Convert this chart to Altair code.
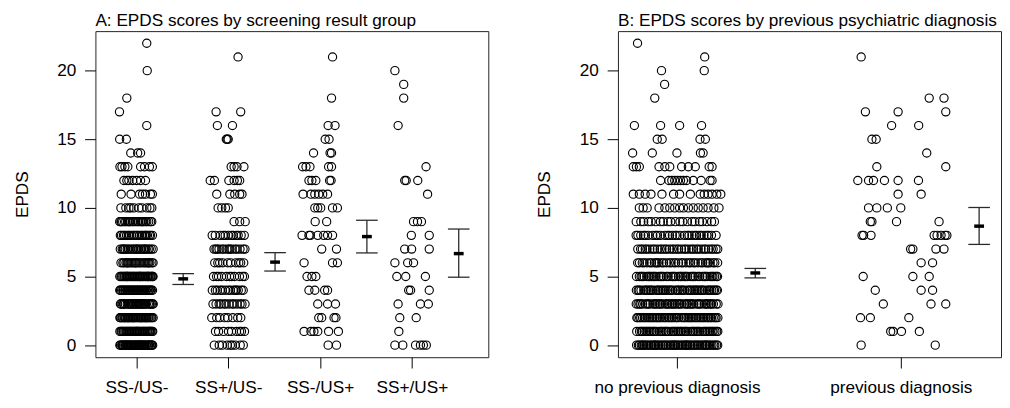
import altair as alt
import pandas as pd

FONT = "Liberation Sans"
FS = 17.5

A_LABELS = ["SS-/US-", "SS+/US-", "SS-/US+", "SS+/US+"]
B_LABELS = ["no previous diagnosis", "previous diagnosis"]

# Dense rows: number of points at each score 0,1,2,...
a1_counts = [44, 36, 40, 32, 34, 38, 24, 24, 22, 24, 10]
a2_counts = [9, 9, 8, 13, 14, 11, 10, 15, 12]
b1_counts = [60, 50, 54, 48, 50, 45, 36, 34, 30, 21]

# Individually readable points: score and horizontal jitter (category units)
a1_scores = [11]*7 + [12]*7 + [13]*8 + [14]*3 + [15]*2 + [16, 17, 18, 20, 22]
a1_jitter = [-0.165, -0.058, 0.035, 0.067, 0.099, 0.153, 0.174,
             -0.136, -0.104, -0.082, -0.040, 0.003, 0.046, 0.099,
             -0.179, -0.157, -0.125, -0.093, 0.046, 0.089, 0.142, 0.174,
             -0.061, 0.014, 0.046,
             -0.182, -0.109,
             0.113, -0.184, -0.104, 0.118, 0.113]

a2_scores = [9]*3 + [10]*4 + [11]*5 + [12]*6 + [13]*4 + [15]*3 + [16]*2 + [17]*2 + [21]
a2_jitter = [0.064, 0.125, 0.185,
             -0.110, -0.070, -0.030, 0.000,
             -0.125, 0.018, 0.071, 0.125, 0.150,
             -0.196, -0.150, 0.007, 0.064, 0.100, 0.125,
             0.032, 0.064, 0.096, 0.171,
             -0.021, -0.011, 0.000,
             -0.118, 0.046,
             -0.132, 0.136,
             0.107]

a3_scores = ([0]*2 + [1]*6 + [2]*4 + [3]*3 + [4]*4 + [5]*3 + [6]*3 + [7]*2 + [8]*7
             + [9]*2 + [10]*5 + [11]*6 + [12]*5 + [13]*5 + [14]*3 + [15]*2 + [16]*2 + [18, 21])
a3_jitter = [0.088, 0.179,
             -0.174, -0.099, -0.067, -0.025, 0.093, 0.200,
             -0.014, 0.018, 0.152, 0.173,
             -0.025, 0.082, 0.168,
             -0.121, -0.057, 0.050, 0.082,
             -0.142, -0.089, -0.046,
             -0.174, 0.136, 0.189,
             0.018, 0.179,
             -0.196, -0.121, -0.105, -0.025, 0.040, 0.082, 0.136,
             -0.053, 0.072,
             -0.057, -0.025, 0.007, 0.136, 0.189,
             -0.185, -0.099, -0.057, -0.014, 0.029, 0.082,
             -0.121, -0.089, -0.046, 0.104, 0.120,
             -0.190, -0.153, -0.110, 0.093, 0.125,
             -0.071, 0.109, 0.125,
             0.056, 0.098,
             0.088, 0.163,
             0.125, 0.136]

a4_scores = ([0]*6 + [1] + [2]*2 + [3]*3 + [4]*3 + [5]*3 + [6]*3 + [7]*3 + [8]*2
             + [9]*3 + [11] + [12]*3 + [13, 16, 18, 19, 20])
a4_jitter = [-0.185, -0.099, 0.040, 0.093, 0.125, 0.157,
             -0.142,
             -0.132, 0.047,
             -0.150, 0.093, 0.179,
             -0.035, -0.014, 0.189,
             -0.164, -0.067, 0.147,
             -0.185, -0.046, 0.018,
             -0.078, -0.003, 0.189,
             -0.006, 0.189,
             0.018, 0.061, 0.104,
             0.171,
             -0.078, -0.062, 0.064,
             0.154, -0.150, -0.089, -0.089, -0.185]

b1_scores = [10]*16 + [11]*14 + [12]*12 + [13]*11 + [14]*5 + [15]*4 + [16]*4 + [18, 19, 20, 20, 21, 22]
b1_jitter = [-0.168, -0.151, -0.133, -0.080, -0.054, -0.032, -0.010, 0.012, 0.029, 0.051, 0.073, 0.095, 0.117, 0.139, 0.165, 0.188,
             -0.195, -0.168, -0.142, -0.116, -0.067, -0.015, 0.012, 0.060, 0.104, 0.122, 0.139, 0.157, 0.178, 0.196,
             -0.073, -0.036, -0.023, -0.010, 0.003, 0.016, 0.029, 0.043, 0.073, 0.108, 0.148, 0.157,
             -0.195, -0.181, -0.168, -0.080, -0.054, -0.032, 0.021, 0.051, 0.082, 0.144, 0.157,
             -0.198, -0.110, 0.000, 0.105, 0.117,
             -0.088, -0.066, 0.103, 0.127,
             -0.190, -0.073, 0.012, 0.110,
             -0.099, -0.055, -0.069, 0.122, 0.124, -0.176]

b2_scores = ([0]*2 + [1]*4 + [2]*3 + [3]*3 + [4]*3 + [5]*3 + [6]*2 + [7]*4 + [8]*8 + [9]*4
             + [10]*4 + [11]*2 + [12]*6 + [13]*2 + [14] + [15]*2 + [16]*2 + [17]*3 + [18]*2 + [21])
b2_jitter = [-0.177, 0.154,
             -0.045, -0.034, 0.003, 0.083,
             -0.180, -0.136, 0.036,
             -0.078, 0.135, 0.201,
             -0.114, 0.091, 0.142,
             -0.168, 0.054, 0.127,
             0.091, 0.142,
             0.044, 0.054, 0.157, 0.193,
             -0.173, -0.166, -0.133, 0.149, 0.162, 0.180, 0.198, 0.206,
             -0.136, -0.129, -0.019, 0.171,
             -0.144, -0.107, -0.060, 0.000,
             -0.012, 0.091,
             -0.192, -0.144, -0.122, -0.073, -0.012, 0.079,
             -0.107, 0.201,
             0.116,
             -0.129, -0.110,
             -0.041, 0.080,
             -0.158, -0.012, 0.201,
             0.127, 0.193,
             -0.177]

# Mean and 95% CI per group
a_mean = [4.83, 6.05, 7.91, 6.67]
a_lower = [4.42, 5.40, 6.72, 4.95]
a_upper = [5.21, 6.74, 9.10, 8.46]
b_mean = [5.26, 8.67]
b_lower = [4.90, 7.34]
b_upper = [5.59, 10.03]

# ---------------- layout helpers ----------------
J = 0.185
Y_DOMAIN = [-0.88, 22.88]
H = 332


def spread(counts):
    """Deterministic even spread of points in a row (beeswarm-like layout)."""
    out = []
    for s, n in enumerate(counts):
        for i in range(n):
            u = ((i + 1) * 0.6180339887 + s * 0.2718) % 1.0
            out.append((s, -J + 2 * J * u))
    return out


def points_frame(groups):
    rows = []
    for g, (counts, scores, jitter) in enumerate(groups, start=1):
        for s, j in spread(counts):
            rows.append({"x": g + j, "y": s})
        for s, j in zip(scores, jitter):
            rows.append({"x": g + j, "y": s})
    return pd.DataFrame(rows)


def make_panel(pts, means, lows, highs, labels, domain, width, bar_off, title):
    ppu = width / (domain[1] - domain[0])
    cap = 11.0 / ppu
    mh = 5.0 / ppu
    n = len(labels)
    xc = [g + bar_off for g in range(1, n + 1)]
    vert = pd.DataFrame({"x": xc, "y": lows, "y2": highs})
    caps = pd.DataFrame({"x": [c - cap for c in xc + xc],
                         "x2": [c + cap for c in xc + xc],
                         "y": lows + highs})
    mdf = pd.DataFrame({"x": [c - mh for c in xc], "x2": [c + mh for c in xc], "y": means})

    expr = "''"
    for i in range(n, 0, -1):
        expr = f"datum.value == {i} ? '{labels[i-1]}' : " + expr

    xenc = alt.X("x:Q",
                 scale=alt.Scale(domain=domain, nice=False, zero=False),
                 axis=alt.Axis(values=list(range(1, n + 1)), labelExpr=expr, title=None,
                               grid=False, domain=False, tickSize=11, labelPadding=11,
                               labelFontSize=FS, labelFlush=False, labelOverlap=False))
    yenc = alt.Y("y:Q",
                 scale=alt.Scale(domain=Y_DOMAIN, nice=False, zero=False),
                 axis=alt.Axis(values=[0, 5, 10, 15, 20], title="EPDS", grid=False,
                               domain=False, tickSize=11, labelPadding=9, labelFontSize=FS,
                               titleFontSize=FS, titleFontWeight="normal", titlePadding=26))

    p = alt.Chart(pts).mark_point(shape="circle", filled=False, size=70, stroke="black",
                                  strokeWidth=1.15, opacity=1).encode(x=xenc, y=yenc)
    v = alt.Chart(vert).mark_rule(color="#2a2a2a", strokeWidth=1.3).encode(
        x=xenc, y=yenc, y2=alt.Y2("y2"))
    c = alt.Chart(caps).mark_rule(color="#2a2a2a", strokeWidth=1.3).encode(
        x=xenc, x2=alt.X2("x2"), y=yenc)
    m = alt.Chart(mdf).mark_rule(color="black", strokeWidth=3.5).encode(
        x=xenc, x2=alt.X2("x2"), y=yenc)
    return alt.layer(p, v, c, m).properties(
        width=width, height=H,
        title=alt.TitleParams(title, anchor="start", frame="group", fontSize=FS,
                              font=FONT, fontWeight="normal", color="black", offset=2))


ptsA = points_frame([(a1_counts, a1_scores, a1_jitter),
                     (a2_counts, a2_scores, a2_jitter),
                     ([], a3_scores, a3_jitter),
                     ([], a4_scores, a4_jitter)])
ptsB = points_frame([(b1_counts, b1_scores, b1_jitter),
                     ([], b2_scores, b2_jitter)])

panelA = make_panel(ptsA, a_mean, a_lower, a_upper, A_LABELS, [0.554, 4.832], 400, 0.51,
                    "A: EPDS scores by screening result group")
panelB = make_panel(ptsB, b_mean, b_lower, b_upper, B_LABELS, [0.7365, 2.4478], 390, 0.35,
                    "B: EPDS scores by previous psychiatric diagnosis")

chart = alt.hconcat(panelA, panelB, spacing=47).properties(
    padding={"left": 5, "top": 0, "right": 0, "bottom": 0},
    background="white"
).configure_axis(
    labelFont=FONT, titleFont=FONT, labelColor="black", titleColor="black",
    tickColor="black", tickWidth=1
).configure_view(stroke="#222", strokeWidth=1)

chart.save("out.html", embed_options={"renderer": "svg", "actions": False})
